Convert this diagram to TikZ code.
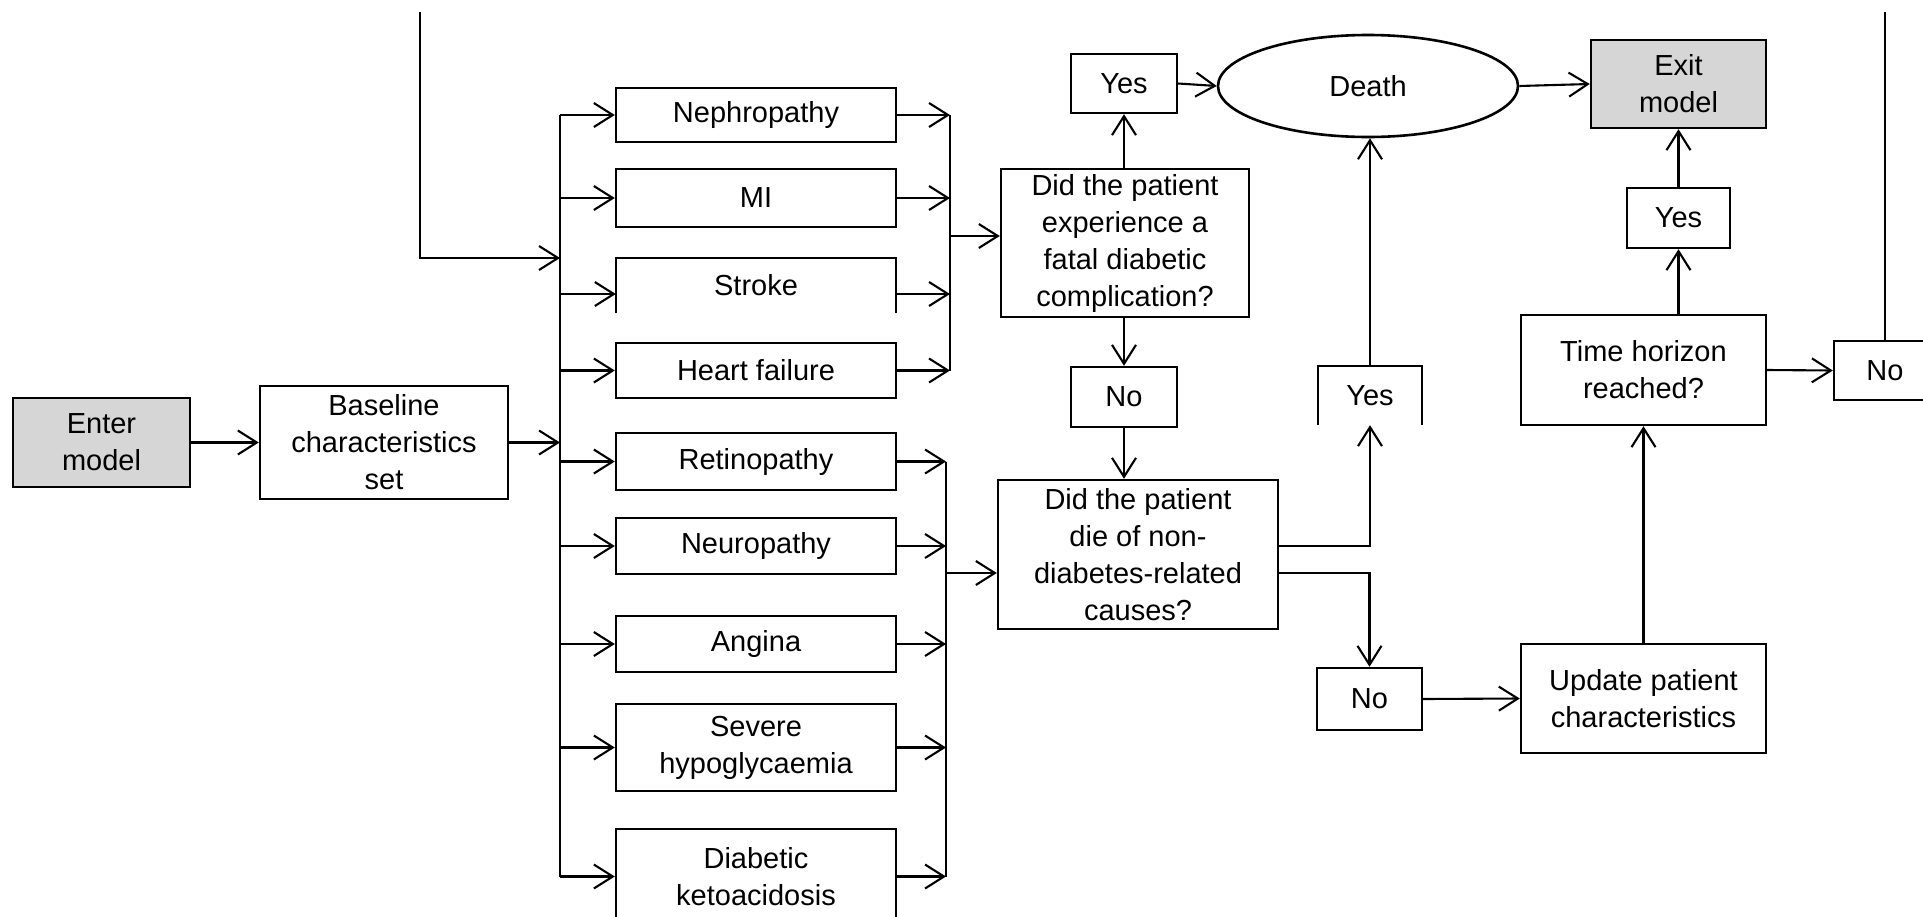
\documentclass[tikz,border=0pt]{standalone}
\usepackage{fontspec}
\setmainfont{Liberation Sans}
\usetikzlibrary{arrows.meta,shapes.geometric,calc}
\definecolor{boxgray}{RGB}{214,214,214}
\begin{document}
\begin{tikzpicture}[x=1pt,y=-1pt,
  txt/.style={font=\fontsize{29}{37}\selectfont, align=center, inner sep=0pt},
  box/.style={txt, draw, line width=2.4pt},
  openbox/.style={txt},
  boxline/.style={line width=2.4pt},
  conn/.style={line width=2.1pt},
  arr/.style={conn, -{Straight Barb[length=19pt,width=24pt,line width=2.1pt]}},
]
\useasboundingbox (0,0) rectangle (1923,916);
\fill[white] (0,0) rectangle (1923,916);

% nodes
\node[box, fill=boxgray, minimum width=177, minimum height=89] (enter) at (101.5,442.5) {Enter\\model};
\node[box, minimum width=248, minimum height=113] (base) at (384,442.5) {Baseline\\characteristics\\set};

\node[box, minimum width=280, minimum height=54] (neph) at (756,115) {Nephropathy};
\node[box, minimum width=280, minimum height=58] (mi) at (756,198) {MI};
\node[openbox, minimum width=280, minimum height=55] (stroke) at (756,285.5) {Stroke};
\draw[boxline] (stroke.south west) -- (stroke.north west) -- (stroke.north east) -- (stroke.south east);
\node[box, minimum width=280, minimum height=55] (hf) at (756,370.5) {Heart failure};
\node[box, minimum width=280, minimum height=57] (ret) at (756,461.5) {Retinopathy};
\node[box, minimum width=280, minimum height=56] (neu) at (756,546) {Neuropathy};
\node[box, minimum width=280, minimum height=56] (ang) at (756,644) {Angina};
\node[box, minimum width=280, minimum height=87] (hypo) at (756,747.5) {Severe\\hypoglycaemia};
\node[box, minimum width=280, minimum height=95] (keto) at (756,876.5) {Diabetic\\ketoacidosis};

\node[box, minimum width=248, minimum height=148] (fatal) at (1125,243) {Did the patient\\experience a\\fatal diabetic\\complication?};
\node[box, minimum width=106, minimum height=59] (yes1) at (1124,83.5) {Yes};
\node[box, minimum width=106, minimum height=60] (no1) at (1124,397) {No};
\node[box, minimum width=280, minimum height=149] (nondiab) at (1138,554.5) {Did the patient\\die of non-\\diabetes-related\\causes?};

\node[txt, draw, ellipse, line width=2.6pt, minimum width=300, minimum height=102] (death) at (1368,86) {Death};
\node[box, fill=boxgray, minimum width=175, minimum height=88] (exit) at (1678.5,84) {Exit\\model};

\node[openbox, minimum width=104, minimum height=59] (yes2) at (1370,395.5) {Yes};
\draw[boxline] (yes2.south west) -- (yes2.north west) -- (yes2.north east) -- (yes2.south east);
\node[box, minimum width=105, minimum height=62] (no2) at (1369.5,699) {No};
\node[box, minimum width=245, minimum height=109] (update) at (1643.5,698.5) {Update patient\\characteristics};
\node[box, minimum width=245, minimum height=110] (time) at (1643.5,370) {Time horizon\\reached?};
\node[box, minimum width=103, minimum height=60] (yes3) at (1678.5,218) {Yes};
\node[box, minimum width=102, minimum height=59] (no3) at (1885,370.5) {No};

% helper coordinates
\coordinate (busx) at (560,0);
\coordinate (rx1) at (950,0);
\coordinate (rx2) at (946,0);
\coordinate (topL) at (420,12);
\coordinate (busT) at (560,258);
\coordinate (sw) at ([yshift=-8.5pt]stroke.west);
\coordinate (se) at ([yshift=-8.5pt]stroke.east);
\coordinate (fin) at ([yshift=7pt]fatal.west);
\coordinate (nin) at ([yshift=-18.5pt]nondiab.west);
\coordinate (ndy) at ([yshift=8.5pt]nondiab.east);
\coordinate (ndn) at ([yshift=-18.5pt]nondiab.east);

% left bus
\draw[conn] (neph.west -| busx) -- (keto.west -| busx);
\draw[arr] (topL) |- (busT);
\draw[arr] (enter) -- (base);
\draw[arr] (base.east) -- (base.east -| busx);
\foreach \n in {neph,mi,hf,ret,neu,ang,hypo,keto}
  \draw[arr] (\n.west -| busx) -- (\n.west);
\draw[arr] (sw -| busx) -- (sw);

% upper collector
\foreach \n in {neph,mi,hf}
  \draw[arr] (\n.east) -- (\n.east -| rx1);
\draw[arr] (se) -- (se -| rx1);
\draw[conn] (neph.east -| rx1) -- (hf.east -| rx1);
\draw[arr] (fin -| rx1) -- (fin);

% lower collector
\foreach \n in {ret,neu,ang,hypo,keto}
  \draw[arr] (\n.east) -- (\n.east -| rx2);
\draw[conn] (ret.east -| rx2) -- (keto.east -| rx2);
\draw[arr] (nin -| rx2) -- (nin);

% decisions
\draw[arr] (fatal.north -| yes1.south) -- (yes1.south);
\draw[arr] (no1.north |- fatal.south) -- (no1.north);
\draw[arr] (no1.south) -- (no1.south |- nondiab.north);
\draw[arr] (yes1.east) -- (death.west);
\draw[arr] (death.east) -- (exit.west);
\draw[arr] (yes2.north) -- (yes2.north |- death.south);
\draw[arr] (ndy) -| (yes2.south);
\draw[arr] (ndn) -| (no2.north);
\draw[arr] (no2.east) -- (update.west);
\draw[arr] (update.north) -- (update.north |- time.south);
\draw[arr] (yes3.south |- time.north) -- (yes3.south);
\draw[arr] (yes3.north) -- (yes3.north |- exit.south);
\draw[arr] (time.east) -- (no3.west);
\draw[conn] (no3.north) -- (no3.north |- topL);
\end{tikzpicture}
\end{document}
